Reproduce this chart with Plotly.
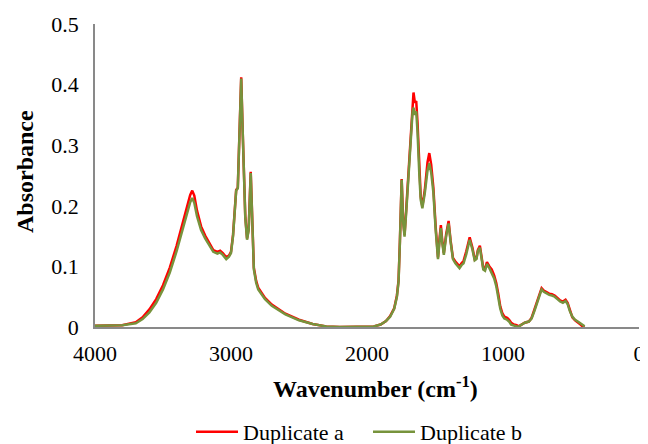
import plotly.graph_objects as go

wavenumber = [4000, 3900, 3800, 3700, 3650, 3600, 3550, 3500, 3450, 3400, 3360, 3320, 3300, 3285,
              3270, 3250, 3220, 3190, 3160, 3130, 3100, 3080, 3060, 3035, 3015, 3000, 2985, 2972,
              2962, 2950, 2938, 2925, 2915, 2905, 2895, 2882, 2870, 2855, 2845, 2832, 2815, 2800,
              2750, 2700, 2600, 2500, 2400, 2300, 2200, 2000, 1950, 1900, 1860, 1830, 1800, 1780,
              1768, 1758, 1745, 1735, 1724, 1710, 1695, 1680, 1665, 1658, 1648, 1638, 1628, 1615,
              1605, 1593, 1575, 1555, 1542, 1528, 1512, 1495, 1478, 1467, 1457, 1447, 1435, 1418,
              1400, 1385, 1368, 1350, 1335, 1320, 1305, 1290, 1270, 1245, 1225, 1208, 1195, 1185,
              1170, 1158, 1145, 1132, 1118, 1100, 1083, 1065, 1050, 1035, 1020, 1005, 990, 970,
              955, 940, 920, 900, 887, 870, 840, 810, 790, 770, 750, 730, 716, 700, 680, 660, 640,
              620, 600, 580, 560, 540, 525, 510, 490, 470, 450, 430, 415, 400]

duplicate_a = [0.002, 0.003, 0.003, 0.008, 0.016, 0.029, 0.046, 0.069, 0.098, 0.134, 0.168, 0.203, 0.218, 0.225,
               0.217, 0.192, 0.166, 0.151, 0.139, 0.127, 0.124, 0.126, 0.122, 0.115, 0.118, 0.124, 0.152, 0.207,
               0.226, 0.230, 0.330, 0.412, 0.330, 0.242, 0.183, 0.146, 0.162, 0.256, 0.178, 0.098, 0.076, 0.065,
               0.048, 0.037, 0.022, 0.012, 0.005, 0.001, 0.000, 0.000, 0.001, 0.004, 0.010, 0.018, 0.031, 0.052,
               0.077, 0.142, 0.244, 0.178, 0.152, 0.200, 0.258, 0.322, 0.378, 0.387, 0.370, 0.373, 0.335, 0.258,
               0.215, 0.199, 0.226, 0.272, 0.287, 0.268, 0.230, 0.165, 0.115, 0.145, 0.168, 0.143, 0.122, 0.153,
               0.175, 0.142, 0.114, 0.108, 0.104, 0.100, 0.105, 0.109, 0.125, 0.148, 0.131, 0.112, 0.114, 0.127,
               0.134, 0.118, 0.097, 0.096, 0.107, 0.100, 0.095, 0.085, 0.073, 0.055, 0.034, 0.023, 0.017, 0.015,
               0.012, 0.007, 0.004, 0.003, 0.001, 0.003, 0.007, 0.009, 0.015, 0.028, 0.042, 0.057, 0.064, 0.060,
               0.057, 0.055, 0.054, 0.052, 0.048, 0.044, 0.042, 0.045, 0.040, 0.028, 0.016, 0.011, 0.008, 0.004,
               0.001, 0.000]

duplicate_b = [0.002, 0.002, 0.003, 0.006, 0.013, 0.024, 0.040, 0.062, 0.090, 0.125, 0.158, 0.192, 0.206, 0.213,
               0.205, 0.183, 0.160, 0.146, 0.135, 0.124, 0.121, 0.123, 0.119, 0.112, 0.116, 0.122, 0.150, 0.205,
               0.225, 0.229, 0.330, 0.410, 0.330, 0.240, 0.180, 0.144, 0.160, 0.254, 0.175, 0.095, 0.073, 0.062,
               0.046, 0.035, 0.021, 0.011, 0.005, 0.001, 0.000, 0.000, 0.001, 0.004, 0.010, 0.017, 0.030, 0.050,
               0.075, 0.140, 0.243, 0.175, 0.149, 0.195, 0.250, 0.310, 0.355, 0.362, 0.350, 0.356, 0.320, 0.250,
               0.210, 0.196, 0.221, 0.258, 0.270, 0.255, 0.222, 0.160, 0.112, 0.140, 0.163, 0.140, 0.119, 0.150,
               0.171, 0.140, 0.112, 0.105, 0.101, 0.097, 0.102, 0.105, 0.120, 0.144, 0.128, 0.110, 0.112, 0.125,
               0.131, 0.115, 0.095, 0.093, 0.104, 0.097, 0.090, 0.080, 0.068, 0.050, 0.030, 0.019, 0.014, 0.012,
               0.009, 0.004, 0.002, 0.001, 0.000, 0.003, 0.007, 0.009, 0.014, 0.026, 0.040, 0.055, 0.062, 0.058,
               0.055, 0.053, 0.052, 0.050, 0.046, 0.042, 0.040, 0.043, 0.038, 0.027, 0.017, 0.012, 0.009, 0.006,
               0.003, 0.001]

x_ticks = [4000, 3000, 2000, 1000, 0]
y_ticks = [0, 0.1, 0.2, 0.3, 0.4, 0.5]
y_tick_labels = ["0", "0.1", "0.2", "0.3", "0.4", "0.5"]

FONT = "Liberation Serif, Times New Roman, serif"
AXIS_GRAY = "#898989"

fig = go.Figure()
fig.add_trace(go.Scatter(x=wavenumber, y=duplicate_a, mode="lines", name="Duplicate a",
                         line=dict(color="#FF0000", width=2.5)))
fig.add_trace(go.Scatter(x=wavenumber, y=duplicate_b, mode="lines", name="Duplicate b",
                         line=dict(color="#77933C", width=2.5)))

# page body has an 8px margin: figure div starts at (8, 8)
OFF = 8
W, H = 648 - OFF, 444 - OFF
L, R, T, B = 95 - OFF, 9, 24 - OFF, 117
pw, ph = W - L - R, H - T - B

def px_x(p):
    return (p - OFF - L) / pw

def px_y(p):
    return (H - B - (p - OFF)) / ph

fig.update_layout(
    width=W, height=H,
    margin=dict(l=L, r=R, t=T, b=B, autoexpand=False),
    paper_bgcolor="white", plot_bgcolor="white",
    font=dict(family=FONT, size=22, color="black"),
    showlegend=True,
    legend=dict(orientation="h", x=px_x(191), y=px_y(432), xanchor="left", yanchor="middle",
                font=dict(family=FONT, size=22, color="black"), bgcolor="rgba(0,0,0,0)",
                itemwidth=42, entrywidth=120, entrywidthmode="pixels", tracegroupgap=0),
    xaxis=dict(range=[4000, 0], tickvals=x_ticks, ticktext=[str(v) for v in x_ticks],
               showgrid=False, zeroline=False, showline=True, linecolor=AXIS_GRAY, linewidth=1.5,
               automargin=False,
               ticks="", ticklabelstandoff=6, tickfont=dict(family=FONT, size=22, color="black")),
    yaxis=dict(range=[0, 0.5], tickvals=y_ticks, ticktext=y_tick_labels,
               showgrid=False, zeroline=False, showline=True, linecolor=AXIS_GRAY, linewidth=1.5,
               automargin=False,
               ticks="", ticklabelstandoff=10, tickfont=dict(family=FONT, size=22, color="black")),
    annotations=[
        dict(text="<b>Wavenumber (cm<sup>-1</sup>)</b>", xref="paper", yref="paper",
             x=px_x(375), y=px_y(387), xanchor="center", yanchor="middle", showarrow=False,
             font=dict(family=FONT, size=24, color="black")),
        dict(text="<b>Absorbance</b>", xref="paper", yref="paper", textangle=-90,
             x=px_x(25), y=px_y(172), xanchor="center", yanchor="middle", showarrow=False,
             font=dict(family=FONT, size=24, color="black")),
    ],
)

fig.write_html("out.html")
